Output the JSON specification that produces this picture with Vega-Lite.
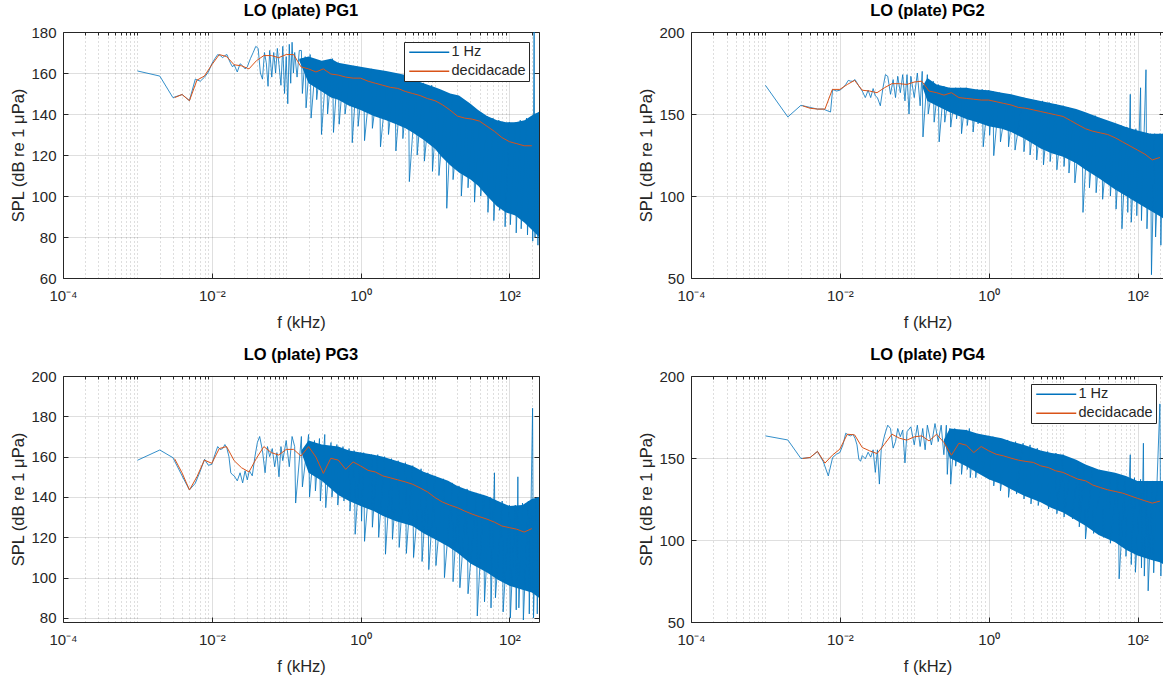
{
  "$schema": "https://vega.github.io/schema/vega-lite/v6.json",
  "padding": {"left": 10, "top": 2, "right": 0, "bottom": 0},
  "background": "white",
  "config": {
    "font": "Liberation Sans",
    "view": {"stroke": "#262626", "strokeWidth": 1},
    "axis": {"domain": false, "labelFontSize": 15, "labelColor": "#262626", "tickColor": "#262626", "titleFontSize": 16.5, "titleFontWeight": "normal", "titleColor": "#262626", "gridColor": "#262626", "gridOpacity": 0.15, "labelFlush": false, "labelOverlap": false},
    "title": {"fontSize": 16.5, "fontWeight": "bold", "color": "#000000", "offset": 6, "anchor": "middle"},
    "legend": {"title": null, "orient": "top-right", "offset": 10, "symbolType": "M-1,0H7", "symbolSize": 100, "symbolStrokeWidth": 1.3, "labelFontSize": 14.5, "labelColor": "#262626", "fillColor": "white", "strokeColor": "#262626", "padding": 3, "rowPadding": 4, "labelOffset": 30}
  },
  "datasets": {
    "l1": [
      {"f":0.001,"v":161},{"f":0.002,"v":158.5},{"f":0.003,"v":148},{"f":0.004,"v":149.5},{"f":0.005,"v":146.5},{"f":0.006,"v":157},{"f":0.007,"v":156},{"f":0.008,"v":158},{"f":0.009,"v":160.5},{"f":0.010,"v":164.5},{"f":0.011,"v":167},{"f":0.012,"v":169},{"f":0.013,"v":168.5},{"f":0.014,"v":167.5},{"f":0.015,"v":168.5},{"f":0.016,"v":169},{"f":0.017,"v":166.5},{"f":0.018,"v":164.5},{"f":0.019,"v":163},{"f":0.020,"v":164},{"f":0.022,"v":160.5},{"f":0.024,"v":164.5},{"f":0.026,"v":163.5},{"f":0.028,"v":162},{"f":0.030,"v":163},{"f":0.033,"v":167},{"f":0.036,"v":170},{"f":0.039,"v":173},{"f":0.042,"v":172},{"f":0.045,"v":160},{"f":0.048,"v":157},{"f":0.051,"v":170},{"f":0.054,"v":165},{"f":0.057,"v":153.5},{"f":0.060,"v":171},{"f":0.064,"v":158},{"f":0.068,"v":170},{"f":0.072,"v":160},{"f":0.076,"v":172},{"f":0.080,"v":164},{"f":0.085,"v":154},{"f":0.090,"v":173},{"f":0.095,"v":150},{"f":0.100,"v":168},{"f":0.105,"v":145},{"f":0.110,"v":174},{"f":0.115,"v":155},{"f":0.120,"v":175},{"f":0.125,"v":160},{"f":0.130,"v":170},{"f":0.140,"v":158},{"f":0.150,"v":171},
      {"f":0.16,"v":171},{"f":0.165,"v":150},{"f":0.18,"v":168},{"f":0.185,"v":143},{"f":0.21,"v":169},{"f":0.216,"v":138},{"f":0.25,"v":166},{"f":0.257,"v":147},{"f":0.29,"v":165},{"f":0.298,"v":130},{"f":0.35,"v":166},{"f":0.36,"v":140},{"f":0.42,"v":167},{"f":0.432,"v":131},{"f":0.5,"v":165},{"f":0.515,"v":135},{"f":0.6,"v":164},{"f":0.618,"v":140},{"f":0.75,"v":163},{"f":0.772,"v":126},{"f":0.9,"v":163},{"f":0.927,"v":134},{"f":1.1,"v":162},{"f":1.13,"v":127},{"f":1.4,"v":162},{"f":1.44,"v":133},{"f":1.8,"v":161},{"f":1.85,"v":124},{"f":2.3,"v":160},{"f":2.37,"v":130},{"f":2.9,"v":160},{"f":2.98,"v":122},{"f":3.6,"v":159},{"f":3.7,"v":128},{"f":4.4,"v":158},{"f":4.52,"v":107},{"f":5.6,"v":156},{"f":5.76,"v":120},{"f":7,"v":155},{"f":7.2,"v":117},{"f":9,"v":154},{"f":9.25,"v":112},{"f":11,"v":152},{"f":11.3,"v":110},{"f":14,"v":150},{"f":14.4,"v":94},{"f":17,"v":149},{"f":17.5,"v":108},{"f":22,"v":147},{"f":22.6,"v":100},{"f":27,"v":145},{"f":27.8,"v":104},{"f":33,"v":143},{"f":34,"v":97},{"f":40,"v":141},{"f":41.2,"v":100},{"f":50,"v":139},{"f":51.5,"v":92},{"f":60,"v":138},{"f":61.8,"v":88},{"f":72,"v":137},{"f":74,"v":93},{"f":85,"v":136},{"f":87.5,"v":85},{"f":100,"v":136},{"f":103,"v":86},{"f":120,"v":136},{"f":123.5,"v":82},{"f":140,"v":137},{"f":144,"v":84},{"f":170,"v":138},{"f":175,"v":81},{"f":200,"v":139},{"f":206,"v":78},{"f":215,"v":185},{"f":221,"v":80},{"f":235,"v":140},{"f":242,"v":76},{"f":248,"v":141}
    ],
    "b1": [
      {"f":0.15,"lo":166,"hi":167},{"f":0.2,"lo":155,"hi":168},{"f":0.3,"lo":151,"hi":166},{"f":0.4,"lo":148,"hi":167},{"f":0.5,"lo":147,"hi":165},{"f":0.7,"lo":144,"hi":164},{"f":1,"lo":142,"hi":163},{"f":1.5,"lo":139,"hi":162},{"f":2.2,"lo":137,"hi":161},{"f":3,"lo":135,"hi":160},{"f":4,"lo":133,"hi":159},{"f":5,"lo":131,"hi":157},{"f":7,"lo":127.5,"hi":155},{"f":10,"lo":123,"hi":153},{"f":12,"lo":119.5,"hi":152},{"f":16,"lo":115,"hi":150},{"f":21,"lo":111.5,"hi":149},{"f":30,"lo":108,"hi":145},{"f":38,"lo":105,"hi":142},{"f":50,"lo":100,"hi":139},{"f":68,"lo":95,"hi":137},{"f":90,"lo":92,"hi":136},{"f":120,"lo":90.5,"hi":136},{"f":160,"lo":87,"hi":137},{"f":215,"lo":82.5,"hi":140},{"f":250,"lo":80,"hi":141}
    ],
    "d1": [
      {"f":0.00316,"v":148},{"f":0.00398,"v":149.5},{"f":0.00501,"v":146.5},{"f":0.00631,"v":156.5},{"f":0.00794,"v":158.5},{"f":0.01,"v":164},{"f":0.0126,"v":169},{"f":0.0158,"v":168},{"f":0.02,"v":164},{"f":0.0251,"v":163.5},{"f":0.0316,"v":162},{"f":0.0398,"v":166},{"f":0.0501,"v":168.5},{"f":0.0631,"v":168.5},{"f":0.0794,"v":167.5},{"f":0.1,"v":169},{"f":0.126,"v":169},{"f":0.158,"v":163},{"f":0.2,"v":162},{"f":0.251,"v":160.5},{"f":0.316,"v":162},{"f":0.398,"v":159.5},{"f":0.501,"v":159},{"f":0.631,"v":158},{"f":0.794,"v":157.5},{"f":1,"v":157.5},{"f":1.26,"v":156},{"f":1.58,"v":155},{"f":2,"v":154},{"f":2.51,"v":153},{"f":3.16,"v":152.5},{"f":3.98,"v":151},{"f":5.01,"v":150},{"f":6.31,"v":149},{"f":7.94,"v":147.5},{"f":10,"v":146.5},{"f":12.6,"v":144.5},{"f":15.8,"v":142},{"f":20,"v":139},{"f":25.1,"v":138},{"f":31.6,"v":137.5},{"f":39.8,"v":136.5},{"f":50.1,"v":134},{"f":63.1,"v":131.5},{"f":79.4,"v":128.5},{"f":100,"v":126.5},{"f":126,"v":125.5},{"f":158,"v":124.5},{"f":200,"v":124.5}
    ],
    "l2": [
      {"f":0.001,"v":167.5},{"f":0.002,"v":148.2},{"f":0.003,"v":155.3},{"f":0.004,"v":154},{"f":0.005,"v":153},{"f":0.006,"v":153},{"f":0.0075,"v":151.2},{"f":0.008,"v":165},{"f":0.009,"v":164},{"f":0.010,"v":164.5},{"f":0.011,"v":166},{"f":0.012,"v":168},{"f":0.013,"v":170.5},{"f":0.014,"v":170},{"f":0.015,"v":170},{"f":0.016,"v":171},{"f":0.017,"v":169},{"f":0.018,"v":167},{"f":0.020,"v":164},{"f":0.022,"v":160},{"f":0.024,"v":164.5},{"f":0.026,"v":160},{"f":0.028,"v":165.5},{"f":0.030,"v":161},{"f":0.032,"v":160},{"f":0.035,"v":155},{"f":0.038,"v":166},{"f":0.041,"v":174},{"f":0.044,"v":173},{"f":0.048,"v":162},{"f":0.052,"v":171},{"f":0.056,"v":160},{"f":0.060,"v":173},{"f":0.065,"v":163},{"f":0.070,"v":174},{"f":0.075,"v":158},{"f":0.080,"v":174},{"f":0.085,"v":150},{"f":0.090,"v":173},{"f":0.100,"v":160},{"f":0.110,"v":175},{"f":0.120,"v":155},
      {"f":0.128,"v":176},{"f":0.131,"v":136},{"f":0.15,"v":174},{"f":0.154,"v":150},{"f":0.18,"v":170},{"f":0.185,"v":145},{"f":0.21,"v":168},{"f":0.216,"v":133},{"f":0.25,"v":167},{"f":0.257,"v":145},{"f":0.3,"v":166},{"f":0.309,"v":142},{"f":0.36,"v":166},{"f":0.37,"v":147},{"f":0.42,"v":166},{"f":0.432,"v":138},{"f":0.5,"v":166},{"f":0.515,"v":143},{"f":0.6,"v":165},{"f":0.618,"v":139},{"f":0.7,"v":165},{"f":0.72,"v":144},{"f":0.82,"v":165},{"f":0.845,"v":130},{"f":1,"v":164.5},{"f":1.03,"v":137},{"f":1.14,"v":164},{"f":1.17,"v":124.6},{"f":1.4,"v":163},{"f":1.44,"v":133},{"f":1.8,"v":162},{"f":1.85,"v":130},{"f":2.2,"v":161},{"f":2.26,"v":128},{"f":2.9,"v":160},{"f":2.98,"v":127},{"f":3.5,"v":159},{"f":3.6,"v":125},{"f":4.3,"v":158.5},{"f":4.42,"v":122},{"f":5.3,"v":158},{"f":5.45,"v":119},{"f":6.5,"v":157},{"f":6.7,"v":121},{"f":8,"v":156},{"f":8.25,"v":116},{"f":10,"v":155},{"f":10.3,"v":118},{"f":11.7,"v":154},{"f":12,"v":114},{"f":14,"v":153},{"f":14.4,"v":108},{"f":18,"v":151},{"f":18.5,"v":90},{"f":22,"v":150},{"f":22.6,"v":105},{"f":27,"v":149},{"f":27.8,"v":102},{"f":33,"v":147},{"f":34,"v":98},{"f":42,"v":145},{"f":43.2,"v":100},{"f":50,"v":144},{"f":51.5,"v":92},{"f":60,"v":143},{"f":61.8,"v":80},{"f":72,"v":142},{"f":74,"v":90},{"f":80,"v":162},{"f":82.4,"v":84},{"f":95,"v":141},{"f":97.8,"v":88},{"f":110,"v":166},{"f":113,"v":85},{"f":130,"v":177},{"f":134,"v":80},{"f":150,"v":138},{"f":154,"v":52},{"f":170,"v":138},{"f":175,"v":75},{"f":200,"v":138},{"f":206,"v":70},{"f":220,"v":138}
    ],
    "b2": [
      {"f":0.13,"lo":166,"hi":167},{"f":0.15,"lo":158,"hi":172},{"f":0.2,"lo":155,"hi":168},{"f":0.3,"lo":151,"hi":166},{"f":0.5,"lo":147,"hi":166},{"f":0.7,"lo":145,"hi":165},{"f":1,"lo":142.5,"hi":164.5},{"f":1.5,"lo":141,"hi":163},{"f":2,"lo":139,"hi":162},{"f":3,"lo":135,"hi":160},{"f":5,"lo":129,"hi":158},{"f":7,"lo":126,"hi":156.5},{"f":10,"lo":124,"hi":155},{"f":15,"lo":120,"hi":153},{"f":20,"lo":116,"hi":151},{"f":30,"lo":111,"hi":148},{"f":50,"lo":104,"hi":144.5},{"f":70,"lo":100,"hi":142},{"f":100,"lo":95.7,"hi":140},{"f":150,"lo":91,"hi":138},{"f":200,"lo":87.6,"hi":138},{"f":227,"lo":86,"hi":138}
    ],
    "d2": [
      {"f":0.00316,"v":155},{"f":0.00398,"v":153.5},{"f":0.00501,"v":153},{"f":0.00631,"v":153},{"f":0.00794,"v":165},{"f":0.01,"v":165},{"f":0.0126,"v":168},{"f":0.0158,"v":170.5},{"f":0.02,"v":164.5},{"f":0.0251,"v":164},{"f":0.0316,"v":163},{"f":0.0398,"v":166},{"f":0.0501,"v":168.5},{"f":0.0631,"v":168.5},{"f":0.0794,"v":168},{"f":0.1,"v":169.5},{"f":0.126,"v":170},{"f":0.158,"v":164},{"f":0.2,"v":163},{"f":0.251,"v":161.5},{"f":0.316,"v":163},{"f":0.398,"v":160},{"f":0.501,"v":159.5},{"f":0.631,"v":159},{"f":0.794,"v":158.5},{"f":1,"v":158.5},{"f":1.26,"v":157.5},{"f":1.58,"v":156.5},{"f":2,"v":155.5},{"f":2.51,"v":154},{"f":3.16,"v":153.5},{"f":3.98,"v":152.5},{"f":5.01,"v":151.5},{"f":6.31,"v":150.5},{"f":7.94,"v":149.5},{"f":10,"v":148.5},{"f":12.6,"v":146},{"f":15.8,"v":143.5},{"f":20,"v":141},{"f":25.1,"v":139.5},{"f":31.6,"v":138.5},{"f":39.8,"v":137.5},{"f":50.1,"v":135.5},{"f":63.1,"v":133},{"f":79.4,"v":130.5},{"f":100,"v":128},{"f":126,"v":125.5},{"f":158,"v":122},{"f":200,"v":123.5}
    ],
    "l3": [
      {"f":0.001,"v":158.2},{"f":0.002,"v":163.3},{"f":0.003,"v":159.5},{"f":0.004,"v":150.4},{"f":0.005,"v":143.5},{"f":0.006,"v":146.8},{"f":0.007,"v":152.9},{"f":0.008,"v":158.7},{"f":0.009,"v":155.7},{"f":0.010,"v":156.2},{"f":0.011,"v":161},{"f":0.012,"v":165},{"f":0.013,"v":163.5},{"f":0.014,"v":164},{"f":0.015,"v":166},{"f":0.016,"v":164},{"f":0.017,"v":160},{"f":0.018,"v":152},{"f":0.019,"v":151},{"f":0.020,"v":150.5},{"f":0.022,"v":148},{"f":0.024,"v":152},{"f":0.026,"v":147},{"f":0.028,"v":153},{"f":0.030,"v":148.5},{"f":0.032,"v":153},{"f":0.035,"v":150.5},{"f":0.038,"v":160},{"f":0.041,"v":167},{"f":0.044,"v":170},{"f":0.048,"v":163},{"f":0.052,"v":152},{"f":0.056,"v":165},{"f":0.060,"v":160},{"f":0.065,"v":164},{"f":0.070,"v":155},{"f":0.075,"v":162},{"f":0.080,"v":150},{"f":0.085,"v":165},{"f":0.090,"v":158},{"f":0.100,"v":168},{"f":0.110,"v":155},{"f":0.120,"v":170},
      {"f":0.13,"v":165},{"f":0.134,"v":137},{"f":0.16,"v":170},{"f":0.165,"v":145},{"f":0.2,"v":171},{"f":0.206,"v":140},{"f":0.24,"v":168},{"f":0.247,"v":143},{"f":0.28,"v":169},{"f":0.288,"v":138},{"f":0.33,"v":171},{"f":0.34,"v":134.7},{"f":0.4,"v":167},{"f":0.412,"v":140},{"f":0.48,"v":166},{"f":0.494,"v":136},{"f":0.58,"v":165},{"f":0.597,"v":138},{"f":0.7,"v":164},{"f":0.72,"v":133},{"f":0.82,"v":163},{"f":0.845,"v":121.5},{"f":1,"v":162},{"f":1.03,"v":128},{"f":1.1,"v":162},{"f":1.13,"v":118},{"f":1.4,"v":161},{"f":1.44,"v":125},{"f":1.7,"v":161},{"f":1.75,"v":120},{"f":2.1,"v":160},{"f":2.16,"v":111.6},{"f":2.6,"v":159},{"f":2.68,"v":119},{"f":3.2,"v":158},{"f":3.3,"v":115},{"f":4,"v":157},{"f":4.12,"v":112},{"f":5,"v":155.5},{"f":5.15,"v":110},{"f":6.5,"v":154},{"f":6.7,"v":108},{"f":8,"v":152},{"f":8.25,"v":104},{"f":10,"v":150.5},{"f":10.3,"v":106},{"f":13,"v":149},{"f":13.4,"v":100},{"f":17,"v":147},{"f":17.5,"v":98},{"f":21,"v":145.5},{"f":21.6,"v":95},{"f":27,"v":144},{"f":27.8,"v":92},{"f":36,"v":142},{"f":37,"v":81},{"f":45,"v":141},{"f":46.3,"v":88},{"f":55,"v":140},{"f":56.6,"v":85},{"f":63,"v":152},{"f":64.9,"v":90},{"f":80,"v":138},{"f":82.4,"v":83},{"f":100,"v":136},{"f":103,"v":80},{"f":120,"v":136},{"f":123.5,"v":84},{"f":130,"v":150},{"f":134,"v":85},{"f":150,"v":137},{"f":154,"v":79},{"f":180,"v":138},{"f":185,"v":82},{"f":205,"v":184},{"f":211,"v":80},{"f":230,"v":139},{"f":237,"v":82},{"f":250,"v":140}
    ],
    "b3": [
      {"f":0.16,"lo":162,"hi":163},{"f":0.2,"lo":152,"hi":168},{"f":0.3,"lo":148,"hi":166},{"f":0.5,"lo":141,"hi":165},{"f":0.7,"lo":138,"hi":163},{"f":1,"lo":135.5,"hi":162},{"f":1.5,"lo":133,"hi":161},{"f":2,"lo":130.6,"hi":160},{"f":3,"lo":128,"hi":158},{"f":5,"lo":125.6,"hi":155.4},{"f":7,"lo":122,"hi":152.5},{"f":10,"lo":119,"hi":150.4},{"f":15,"lo":115.5,"hi":148},{"f":20,"lo":112.4,"hi":145.5},{"f":30,"lo":107,"hi":143},{"f":50,"lo":102.5,"hi":140.5},{"f":70,"lo":99,"hi":138},{"f":100,"lo":96,"hi":135.5},{"f":150,"lo":94,"hi":136},{"f":200,"lo":92.6,"hi":139},{"f":250,"lo":90,"hi":140}
    ],
    "d3": [
      {"f":0.00316,"v":159},{"f":0.00398,"v":152},{"f":0.00501,"v":143.5},{"f":0.00631,"v":150},{"f":0.00794,"v":158.3},{"f":0.01,"v":156.7},{"f":0.0126,"v":164},{"f":0.0158,"v":165},{"f":0.02,"v":158},{"f":0.0251,"v":154.5},{"f":0.0316,"v":152.4},{"f":0.0398,"v":159.2},{"f":0.0501,"v":165},{"f":0.0631,"v":162},{"f":0.0794,"v":160.8},{"f":0.1,"v":163.6},{"f":0.126,"v":163.6},{"f":0.158,"v":160.3},{"f":0.2,"v":165},{"f":0.251,"v":159.8},{"f":0.316,"v":151.7},{"f":0.398,"v":159.2},{"f":0.501,"v":158.3},{"f":0.631,"v":153.7},{"f":0.794,"v":157.4},{"f":1,"v":155.4},{"f":1.26,"v":153.2},{"f":1.58,"v":152.4},{"f":2,"v":150.4},{"f":2.51,"v":149.5},{"f":3.16,"v":148.5},{"f":3.98,"v":147.5},{"f":5.01,"v":146.3},{"f":6.31,"v":144.5},{"f":7.94,"v":142.5},{"f":10,"v":139.7},{"f":12.6,"v":137.5},{"f":15.8,"v":136},{"f":20,"v":134.7},{"f":25.1,"v":133},{"f":31.6,"v":131.5},{"f":39.8,"v":130.2},{"f":50.1,"v":129},{"f":63.1,"v":127.5},{"f":79.4,"v":125.6},{"f":100,"v":124.8},{"f":126,"v":124},{"f":158,"v":122.6},{"f":200,"v":124.3}
    ],
    "l4": [
      {"f":0.001,"v":163.5},{"f":0.002,"v":161},{"f":0.003,"v":149.7},{"f":0.004,"v":150.3},{"f":0.005,"v":154},{"f":0.006,"v":147.7},{"f":0.007,"v":139.1},{"f":0.008,"v":150.3},{"f":0.009,"v":152.3},{"f":0.010,"v":153.3},{"f":0.011,"v":158},{"f":0.012,"v":165.1},{"f":0.013,"v":164},{"f":0.014,"v":163.5},{"f":0.015,"v":164.5},{"f":0.016,"v":162},{"f":0.017,"v":158},{"f":0.018,"v":149.3},{"f":0.019,"v":148},{"f":0.020,"v":151.5},{"f":0.022,"v":149.5},{"f":0.024,"v":153.5},{"f":0.026,"v":150.5},{"f":0.028,"v":155},{"f":0.030,"v":141.2},{"f":0.032,"v":155},{"f":0.034,"v":134.1},{"f":0.036,"v":155},{"f":0.040,"v":164},{"f":0.044,"v":170},{"f":0.048,"v":168},{"f":0.052,"v":156},{"f":0.056,"v":160},{"f":0.060,"v":168},{"f":0.065,"v":163},{"f":0.070,"v":167},{"f":0.075,"v":147},{"f":0.080,"v":166},{"f":0.090,"v":169},{"f":0.100,"v":158},{"f":0.110,"v":170},{"f":0.120,"v":157},{"f":0.130,"v":168},{"f":0.140,"v":155},{"f":0.150,"v":170},{"f":0.170,"v":158},{"f":0.190,"v":171},{"f":0.210,"v":160},{"f":0.230,"v":170},{"f":0.250,"v":152},
      {"f":0.27,"v":170},{"f":0.278,"v":140},{"f":0.3,"v":168},{"f":0.309,"v":134},{"f":0.35,"v":168},{"f":0.36,"v":145},{"f":0.42,"v":167},{"f":0.432,"v":140},{"f":0.5,"v":167},{"f":0.515,"v":143},{"f":0.55,"v":168},{"f":0.566,"v":138},{"f":0.65,"v":165},{"f":0.67,"v":138},{"f":0.8,"v":164},{"f":0.824,"v":141},{"f":1,"v":163.5},{"f":1.03,"v":137},{"f":1.14,"v":163},{"f":1.17,"v":133},{"f":1.4,"v":162},{"f":1.44,"v":130},{"f":1.8,"v":161},{"f":1.85,"v":126},{"f":2.3,"v":160},{"f":2.37,"v":128},{"f":2.9,"v":159},{"f":2.98,"v":125},{"f":3.6,"v":158},{"f":3.7,"v":122},{"f":4.5,"v":156},{"f":4.63,"v":121},{"f":6.2,"v":154},{"f":6.38,"v":118.9},{"f":8,"v":153},{"f":8.25,"v":116},{"f":10,"v":152},{"f":10.3,"v":114},{"f":13,"v":149},{"f":13.4,"v":112.8},{"f":16,"v":148},{"f":16.5,"v":108},{"f":19.5,"v":146},{"f":20,"v":100.6},{"f":25,"v":144},{"f":25.7,"v":104},{"f":34,"v":142},{"f":35,"v":101.6},{"f":42,"v":141},{"f":43.2,"v":98},{"f":55,"v":140},{"f":56.6,"v":76.3},{"f":68,"v":139},{"f":70,"v":90},{"f":80,"v":152},{"f":82.4,"v":85},{"f":91,"v":138},{"f":93.7,"v":80.3},{"f":110,"v":137},{"f":113,"v":83},{"f":120,"v":159},{"f":123.5,"v":78},{"f":135,"v":136},{"f":139,"v":69},{"f":160,"v":136},{"f":165,"v":80},{"f":200,"v":183},{"f":206,"v":78},{"f":220,"v":136}
    ],
    "b4": [
      {"f":0.25,"lo":160,"hi":161},{"f":0.3,"lo":150,"hi":168},{"f":0.5,"lo":145,"hi":167},{"f":0.7,"lo":141,"hi":165},{"f":1,"lo":137,"hi":163.5},{"f":1.5,"lo":134,"hi":162},{"f":2,"lo":131,"hi":160},{"f":3,"lo":127,"hi":158},{"f":5,"lo":123,"hi":154.5},{"f":7,"lo":119.5,"hi":153},{"f":10,"lo":116.8,"hi":152},{"f":15,"lo":112,"hi":149},{"f":20,"lo":108.7,"hi":146},{"f":30,"lo":103,"hi":143},{"f":50,"lo":98.6,"hi":141},{"f":70,"lo":94,"hi":139},{"f":100,"lo":90.5,"hi":136},{"f":150,"lo":88,"hi":136},{"f":200,"lo":86.4,"hi":136},{"f":227,"lo":85,"hi":136}
    ],
    "d4": [
      {"f":0.00316,"v":149.7},{"f":0.00398,"v":150.3},{"f":0.00501,"v":154},{"f":0.00631,"v":146.9},{"f":0.00794,"v":151.7},{"f":0.01,"v":155.4},{"f":0.0126,"v":164.5},{"f":0.0158,"v":164.1},{"f":0.02,"v":156.4},{"f":0.0251,"v":154.4},{"f":0.0316,"v":152.7},{"f":0.0398,"v":158.4},{"f":0.0501,"v":164.5},{"f":0.0631,"v":162.1},{"f":0.0794,"v":160.9},{"f":0.1,"v":162.9},{"f":0.126,"v":163.5},{"f":0.158,"v":160.4},{"f":0.2,"v":164.5},{"f":0.251,"v":159.4},{"f":0.316,"v":151.7},{"f":0.398,"v":159},{"f":0.501,"v":157.8},{"f":0.631,"v":153.3},{"f":0.794,"v":157},{"f":1,"v":154.4},{"f":1.26,"v":152.3},{"f":1.58,"v":151.3},{"f":2,"v":149.9},{"f":2.51,"v":148.7},{"f":3.16,"v":147.9},{"f":3.98,"v":147.3},{"f":5.01,"v":145.2},{"f":6.31,"v":144.2},{"f":7.94,"v":142.2},{"f":10,"v":141.2},{"f":12.6,"v":139.1},{"f":15.8,"v":137.1},{"f":20,"v":136.1},{"f":25.1,"v":133.5},{"f":31.6,"v":132},{"f":39.8,"v":130.6},{"f":50.1,"v":129.6},{"f":63.1,"v":128.6},{"f":79.4,"v":127},{"f":100,"v":125.4},{"f":126,"v":123.9},{"f":158,"v":122.5},{"f":200,"v":123.7}
    ]
  },
  "columns": 2,
  "spacing": {"row": 14, "column": 98},
  "resolve": {"scale": {"color": "independent"}, "legend": {"color": "independent"}},
  "concat": [
    {
      "width": 476, "height": 246,
      "title": "LO (plate) PG1",
      "resolve": {"axis": {"x": "independent", "y": "independent"}},
      "layer": [
        {"data": {"name": "b1"}, "mark": {"type": "area", "color": "#0072BD", "clip": true},
         "encoding": {
           "x": {"field": "f", "type": "quantitative", "title": "f (kHz)", "scale": {"type": "log", "domain": [0.0001, 250], "nice": false},
                 "axis": {"values": [0.0001, 0.01, 1, 100], "labelExpr": "datum.value < 0.001 ? '10⁻⁴' : datum.value < 0.1 ? '10⁻²' : datum.value < 10 ? '10⁰' : '10²'", "grid": true, "tickSize": -5, "labelPadding": 15, "titlePadding": 11.5}},
           "y": {"field": "lo", "type": "quantitative", "title": "SPL (dB re 1 μPa)", "scale": {"domain": [60, 180], "nice": false, "zero": false},
                 "axis": {"values": [60, 80, 100, 120, 140, 160, 180], "grid": true, "tickSize": -5, "labelPadding": 12, "titlePadding": 4}},
           "y2": {"field": "hi"}
         }},
        {"data": {"name": "l1"}, "mark": {"type": "line", "strokeWidth": 0.8, "clip": true},
         "encoding": {
           "x": {"field": "f", "type": "quantitative", "axis": null},
           "y": {"field": "v", "type": "quantitative", "axis": null},
           "color": {"datum": "1 Hz", "scale": {"domain": ["1 Hz", "decidacade"], "range": ["#0072BD", "#D95319"]}, "legend": {"orient": "top-right"}}
         }},
        {"data": {"name": "d1"}, "mark": {"type": "line", "strokeWidth": 1, "clip": true},
         "encoding": {
           "x": {"field": "f", "type": "quantitative", "axis": {"orient": "top", "title": null, "labels": false, "values": [0.0002,0.0003,0.0004,0.0005,0.0006,0.0007,0.0008,0.0009,0.001,0.002,0.003,0.004,0.005,0.006,0.007,0.008,0.009,0.02,0.03,0.04,0.05,0.06,0.07,0.08,0.09,0.1,0.2,0.3,0.4,0.5,0.6,0.7,0.8,0.9,2,3,4,5,6,7,8,9,10,20,30,40,50,60,70,80,90,200], "grid": true, "gridDash": [1, 3], "gridOpacity": 0.3, "tickSize": -3}},
           "y": {"field": "v", "type": "quantitative", "axis": {"orient": "right", "title": null, "labels": false, "values": [60, 80, 100, 120, 140, 160, 180], "grid": false, "tickSize": -5}},
           "color": {"datum": "decidacade"}
         }}
      ]
    },
    {
      "width": 473, "height": 246,
      "title": "LO (plate) PG2",
      "resolve": {"axis": {"x": "independent", "y": "independent"}},
      "layer": [
        {"data": {"name": "b2"}, "mark": {"type": "area", "color": "#0072BD", "clip": true},
         "encoding": {
           "x": {"field": "f", "type": "quantitative", "title": "f (kHz)", "scale": {"type": "log", "domain": [0.0001, 227], "nice": false},
                 "axis": {"values": [0.0001, 0.01, 1, 100], "labelExpr": "datum.value < 0.001 ? '10⁻⁴' : datum.value < 0.1 ? '10⁻²' : datum.value < 10 ? '10⁰' : '10²'", "grid": true, "tickSize": -5, "labelPadding": 15, "titlePadding": 11.5}},
           "y": {"field": "lo", "type": "quantitative", "title": "SPL (dB re 1 μPa)", "scale": {"domain": [50, 200], "nice": false, "zero": false},
                 "axis": {"values": [50, 100, 150, 200], "grid": true, "tickSize": -5, "labelPadding": 12, "titlePadding": 4}},
           "y2": {"field": "hi"}
         }},
        {"data": {"name": "l2"}, "mark": {"type": "line", "strokeWidth": 0.8, "clip": true},
         "encoding": {
           "x": {"field": "f", "type": "quantitative", "axis": null},
           "y": {"field": "v", "type": "quantitative", "axis": null},
           "color": {"datum": "1 Hz", "scale": {"domain": ["1 Hz", "decidacade"], "range": ["#0072BD", "#D95319"]}, "legend": null}
         }},
        {"data": {"name": "d2"}, "mark": {"type": "line", "strokeWidth": 1, "clip": true},
         "encoding": {
           "x": {"field": "f", "type": "quantitative", "axis": {"orient": "top", "title": null, "labels": false, "values": [0.0002,0.0003,0.0004,0.0005,0.0006,0.0007,0.0008,0.0009,0.001,0.002,0.003,0.004,0.005,0.006,0.007,0.008,0.009,0.02,0.03,0.04,0.05,0.06,0.07,0.08,0.09,0.1,0.2,0.3,0.4,0.5,0.6,0.7,0.8,0.9,2,3,4,5,6,7,8,9,10,20,30,40,50,60,70,80,90,200], "grid": true, "gridDash": [1, 3], "gridOpacity": 0.3, "tickSize": -3}},
           "y": {"field": "v", "type": "quantitative", "axis": {"orient": "right", "title": null, "labels": false, "values": [50, 100, 150, 200], "grid": false, "tickSize": -5}},
           "color": {"datum": "decidacade", "legend": null}
         }}
      ]
    },
    {
      "width": 476, "height": 246,
      "title": "LO (plate) PG3",
      "resolve": {"axis": {"x": "independent", "y": "independent"}},
      "layer": [
        {"data": {"name": "b3"}, "mark": {"type": "area", "color": "#0072BD", "clip": true},
         "encoding": {
           "x": {"field": "f", "type": "quantitative", "title": "f (kHz)", "scale": {"type": "log", "domain": [0.0001, 250], "nice": false},
                 "axis": {"values": [0.0001, 0.01, 1, 100], "labelExpr": "datum.value < 0.001 ? '10⁻⁴' : datum.value < 0.1 ? '10⁻²' : datum.value < 10 ? '10⁰' : '10²'", "grid": true, "tickSize": -5, "labelPadding": 15, "titlePadding": 11.5}},
           "y": {"field": "lo", "type": "quantitative", "title": "SPL (dB re 1 μPa)", "scale": {"domain": [78, 200], "nice": false, "zero": false},
                 "axis": {"values": [80, 100, 120, 140, 160, 180, 200], "grid": true, "tickSize": -5, "labelPadding": 12, "titlePadding": 4}},
           "y2": {"field": "hi"}
         }},
        {"data": {"name": "l3"}, "mark": {"type": "line", "strokeWidth": 0.8, "clip": true},
         "encoding": {
           "x": {"field": "f", "type": "quantitative", "axis": null},
           "y": {"field": "v", "type": "quantitative", "axis": null},
           "color": {"datum": "1 Hz", "scale": {"domain": ["1 Hz", "decidacade"], "range": ["#0072BD", "#D95319"]}, "legend": null}
         }},
        {"data": {"name": "d3"}, "mark": {"type": "line", "strokeWidth": 1, "clip": true},
         "encoding": {
           "x": {"field": "f", "type": "quantitative", "axis": {"orient": "top", "title": null, "labels": false, "values": [0.0002,0.0003,0.0004,0.0005,0.0006,0.0007,0.0008,0.0009,0.001,0.002,0.003,0.004,0.005,0.006,0.007,0.008,0.009,0.02,0.03,0.04,0.05,0.06,0.07,0.08,0.09,0.1,0.2,0.3,0.4,0.5,0.6,0.7,0.8,0.9,2,3,4,5,6,7,8,9,10,20,30,40,50,60,70,80,90,200], "grid": true, "gridDash": [1, 3], "gridOpacity": 0.3, "tickSize": -3}},
           "y": {"field": "v", "type": "quantitative", "axis": {"orient": "right", "title": null, "labels": false, "values": [80, 100, 120, 140, 160, 180, 200], "grid": false, "tickSize": -5}},
           "color": {"datum": "decidacade", "legend": null}
         }}
      ]
    },
    {
      "width": 473, "height": 246,
      "title": "LO (plate) PG4",
      "resolve": {"axis": {"x": "independent", "y": "independent"}},
      "layer": [
        {"data": {"name": "b4"}, "mark": {"type": "area", "color": "#0072BD", "clip": true},
         "encoding": {
           "x": {"field": "f", "type": "quantitative", "title": "f (kHz)", "scale": {"type": "log", "domain": [0.0001, 227], "nice": false},
                 "axis": {"values": [0.0001, 0.01, 1, 100], "labelExpr": "datum.value < 0.001 ? '10⁻⁴' : datum.value < 0.1 ? '10⁻²' : datum.value < 10 ? '10⁰' : '10²'", "grid": true, "tickSize": -5, "labelPadding": 15, "titlePadding": 11.5}},
           "y": {"field": "lo", "type": "quantitative", "title": "SPL (dB re 1 μPa)", "scale": {"domain": [50, 200], "nice": false, "zero": false},
                 "axis": {"values": [50, 100, 150, 200], "grid": true, "tickSize": -5, "labelPadding": 12, "titlePadding": 4}},
           "y2": {"field": "hi"}
         }},
        {"data": {"name": "l4"}, "mark": {"type": "line", "strokeWidth": 0.8, "clip": true},
         "encoding": {
           "x": {"field": "f", "type": "quantitative", "axis": null},
           "y": {"field": "v", "type": "quantitative", "axis": null},
           "color": {"datum": "1 Hz", "scale": {"domain": ["1 Hz", "decidacade"], "range": ["#0072BD", "#D95319"]}, "legend": {"orient": "top-right", "offset": 8}}
         }},
        {"data": {"name": "d4"}, "mark": {"type": "line", "strokeWidth": 1, "clip": true},
         "encoding": {
           "x": {"field": "f", "type": "quantitative", "axis": {"orient": "top", "title": null, "labels": false, "values": [0.0002,0.0003,0.0004,0.0005,0.0006,0.0007,0.0008,0.0009,0.001,0.002,0.003,0.004,0.005,0.006,0.007,0.008,0.009,0.02,0.03,0.04,0.05,0.06,0.07,0.08,0.09,0.1,0.2,0.3,0.4,0.5,0.6,0.7,0.8,0.9,2,3,4,5,6,7,8,9,10,20,30,40,50,60,70,80,90,200], "grid": true, "gridDash": [1, 3], "gridOpacity": 0.3, "tickSize": -3}},
           "y": {"field": "v", "type": "quantitative", "axis": {"orient": "right", "title": null, "labels": false, "values": [50, 100, 150, 200], "grid": false, "tickSize": -5}},
           "color": {"datum": "decidacade"}
         }}
      ]
    }
  ]
}
